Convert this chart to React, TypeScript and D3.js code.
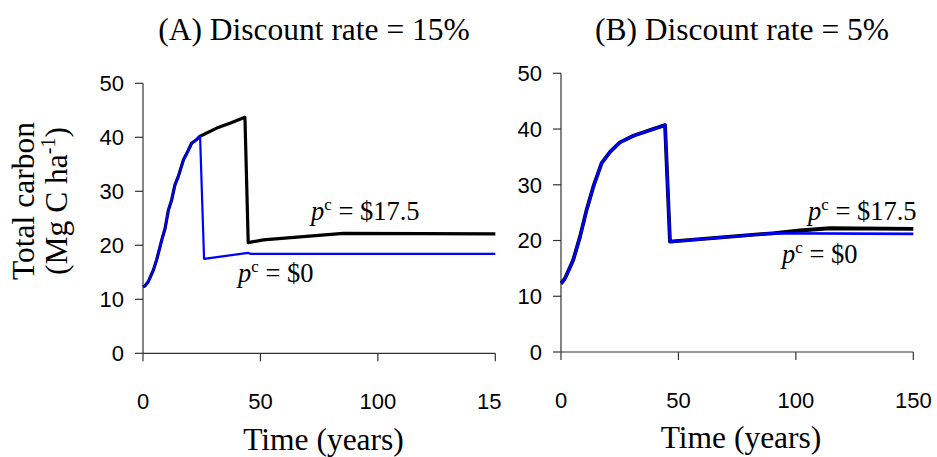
import React from "react";
import * as d3 from "d3";

// ---- Data ----
const xTicks = [0, 50, 100, 150];
const yTicks = [0, 10, 20, 30, 40, 50];

const titleA = "(A) Discount rate = 15%";
const titleB = "(B) Discount rate = 5%";

// Panel A (15%) : carbon price $17.5 (black) and $0 (blue)
const yearsA17 = [0, 0.9, 2.3, 4.4, 5.8, 8.0, 9.4, 10.8, 12.2, 13.6, 15.0, 17.2, 19.3, 20.7, 22.9, 24.3, 31.4, 37.0, 43.4, 44.8, 51.2, 68.2, 85.3, 150];
const carbonA17 = [12.3, 12.5, 13.3, 15.4, 17.3, 21.0, 23.1, 26.5, 28.4, 31.2, 32.7, 35.8, 37.6, 38.9, 39.6, 40.2, 41.7, 42.6, 43.7, 20.5, 21.0, 21.6, 22.2, 22.1];
const yearsA0 = [0, 0.9, 2.3, 4.4, 5.8, 8.0, 9.4, 10.8, 12.2, 13.6, 15.0, 17.2, 19.3, 20.7, 22.9, 24.3, 26.0, 44.8, 46.0, 150];
const carbonA0 = [12.3, 12.5, 13.3, 15.4, 17.3, 21.0, 23.1, 26.5, 28.4, 31.2, 32.7, 35.8, 37.6, 38.9, 39.6, 40.2, 17.5, 18.6, 18.4, 18.4];

// Panel B (5%)
const yearsB17 = [0, 0.3, 1.7, 5.2, 8.1, 10.9, 13.8, 17.3, 20.9, 25.1, 30.8, 37.9, 44.3, 46.4, 90, 101.7, 114.5, 150];
const carbonB17 = [12.3, 12.4, 13.2, 16.5, 20.7, 25.5, 29.7, 33.9, 35.9, 37.6, 38.8, 39.8, 40.7, 19.8, 21.3, 21.8, 22.2, 22.1];
const yearsB0 = [0, 0.3, 1.7, 5.2, 8.1, 10.9, 13.8, 17.3, 20.9, 25.1, 30.8, 37.9, 44.3, 46.4, 90, 150];
const carbonB0 = [12.3, 12.4, 13.2, 16.5, 20.7, 25.5, 29.7, 33.9, 35.9, 37.6, 38.8, 39.8, 40.7, 19.8, 21.3, 21.2];

const serif = "'Liberation Serif', 'Times New Roman', serif";
const sans = "'Liberation Sans', Arial, sans-serif";
const serifSize = 31.5;
const tickSize = 22;

type PanelProps = {
  x0: number; x1: number; yTop: number; yBottom: number;
  title: string; titleX: number;
  xTitleX: number; xTitleY: number;
  black: { t: number[]; v: number[] };
  blue: { t: number[]; v: number[] };
  blackW: number; blueW: number;
  lab17: [number, number]; lab0: [number, number];
  clipRight?: number;
  id: string;
};

function PLabel({ x, y, val }: { x: number; y: number; val: string }) {
  return (
    <text x={x} y={y} fontFamily={serif} fontSize={26.5} fill="#000">
      <tspan fontStyle="italic">p</tspan>
      <tspan fontSize={17} dy={-10}>c</tspan>
      <tspan dy={10}>{` = ${val}`}</tspan>
    </text>
  );
}

function Panel(p: PanelProps) {
  const x = d3.scaleLinear().domain([0, 150]).range([p.x0, p.x1]);
  const y = d3.scaleLinear().domain([0, 50]).range([p.yBottom, p.yTop]);
  const line = d3.line<[number, number]>().x(d => x(d[0])).y(d => y(d[1]));
  const blackPts = p.black.t.map((t, i) => [t, p.black.v[i]] as [number, number]);
  const bluePts = p.blue.t.map((t, i) => [t, p.blue.v[i]] as [number, number]);
  return (
    <g>
      {p.clipRight !== undefined && (
        <defs>
          <clipPath id={p.id}>
            <rect x={0} y={0} width={p.clipRight} height={457} />
          </clipPath>
        </defs>
      )}
      <g clipPath={p.clipRight !== undefined ? `url(#${p.id})` : undefined}>
        <text x={p.titleX} y={40} textAnchor="middle" fontFamily={serif} fontSize={serifSize}>{p.title}</text>
        {/* axes */}
        <line x1={p.x0} x2={p.x0} y1={y(0)} y2={y(50)} stroke="#333" strokeWidth={1.2} />
        <line x1={p.x0} x2={p.x1} y1={y(0)} y2={y(0)} stroke="#333" strokeWidth={1.2} />
        {yTicks.map(v => (
          <g key={"y" + v}>
            <line x1={p.x0 - 8} x2={p.x0} y1={y(v)} y2={y(v)} stroke="#333" strokeWidth={1.2} />
            <text x={p.x0 - 19} y={y(v)} dy="0.36em" textAnchor="end" fontFamily={sans} fontSize={tickSize}>{v}</text>
          </g>
        ))}
        {xTicks.map(v => (
          <g key={"x" + v}>
            <line x1={x(v)} x2={x(v)} y1={y(0)} y2={y(0) + 8} stroke="#333" strokeWidth={1.2} />
            <text x={x(v)} y={y(0) + 56} textAnchor="middle" fontFamily={sans} fontSize={tickSize}>{v}</text>
          </g>
        ))}
        <text x={p.xTitleX} y={p.xTitleY} textAnchor="middle" fontFamily={serif} fontSize={serifSize}>Time (years)</text>
        <path d={line(blackPts) || ""} fill="none" stroke="#000" strokeWidth={p.blackW} strokeLinejoin="round" />
        <path d={line(bluePts) || ""} fill="none" stroke="#0000ff" strokeWidth={p.blueW} strokeLinejoin="round" />
        <PLabel x={p.lab17[0]} y={p.lab17[1]} val="$17.5" />
        <PLabel x={p.lab0[0]} y={p.lab0[1]} val="$0" />
      </g>
    </g>
  );
}

export default function App() {
  return (
    <svg width={937} height={457} style={{ position: "absolute", left: 0, top: 0, background: "#fff" }}>
      <rect width={937} height={457} fill="#fff" />
      <g transform="translate(34,201) rotate(-90)">
        <text x={0} y={0} textAnchor="middle" fontFamily={serif} fontSize={serifSize}>Total carbon</text>
        <text x={0} y={33} textAnchor="middle" fontFamily={serif} fontSize={serifSize}>
          (Mg C ha<tspan fontSize={20} dy={-12}>-1</tspan><tspan dy={12}>)</tspan>
        </text>
      </g>
      <Panel id="clipA" x0={143} x1={495.3} yTop={83.3} yBottom={353.3}
        title={titleA} titleX={314} xTitleX={323.5} xTitleY={450}
        black={{ t: yearsA17, v: carbonA17 }} blue={{ t: yearsA0, v: carbonA0 }}
        blackW={3.2} blueW={2.2}
        lab17={[311, 220]} lab0={[238, 282]} clipRight={502} />
      <Panel id="clipB" x0={561} x1={913.3} yTop={73.3} yBottom={352}
        title={titleB} titleX={742} xTitleX={741} xTitleY={448}
        black={{ t: yearsB17, v: carbonB17 }} blue={{ t: yearsB0, v: carbonB0 }}
        blackW={3.8} blueW={2.6}
        lab17={[808, 220]} lab0={[782, 263]} />
    </svg>
  );
}
